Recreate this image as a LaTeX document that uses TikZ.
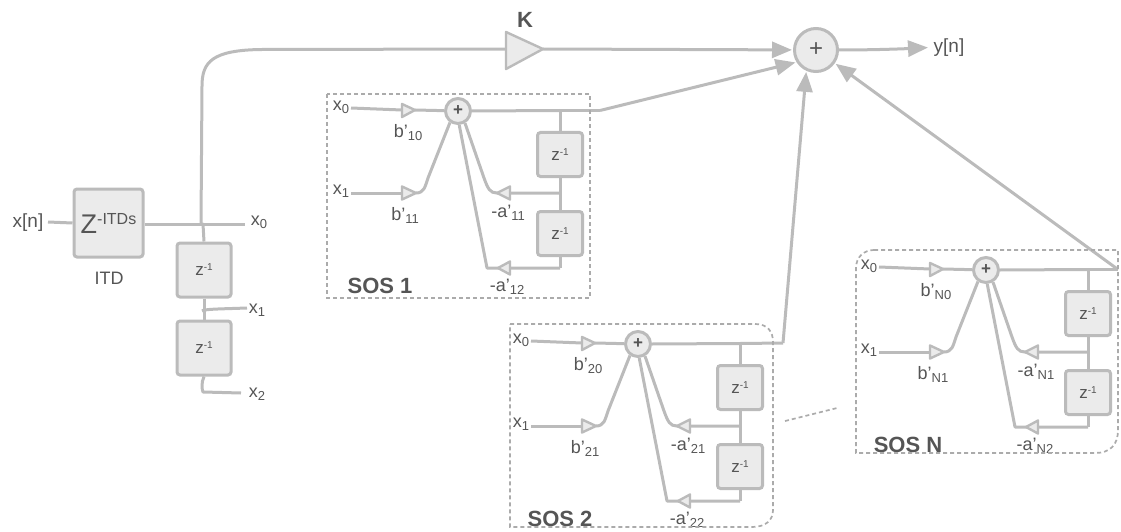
\documentclass[tikz,border=0pt]{standalone}
\usepackage{fontspec}
\setmainfont{Liberation Sans}
\usetikzlibrary{arrows.meta,calc}
\definecolor{ln}{HTML}{BBBBBB}
\definecolor{fl}{HTML}{EBEBEB}
\definecolor{tx}{HTML}{555555}
\definecolor{ds}{HTML}{ABABAB}
\newcommand{\fs}[1]{\fontsize{#1}{#1}\selectfont}
\newcommand{\subb}[2]{\fs{18}#1\raisebox{-3pt}{\fs{13}#2}}
\newcommand{\zinv}{\fs{17}z\raisebox{5pt}{\fs{10}-1}}
\tikzset{
 x=1pt,y=-1pt,
 lne/.style={draw=ln,line width=3pt,line join=round},
 arr/.style={lne,-{Triangle[length=20pt,width=16pt,fill=ln]},shorten >=1pt},
 zbox/.style={draw=ln,fill=fl,line width=3pt,rounded corners=3pt,inner sep=0pt,text=tx,minimum width=45pt,minimum height=44pt},
 sumn/.style={circle,draw=ln,fill=fl,line width=3pt,inner sep=0pt,text=tx,minimum size=25pt},
 gain/.style={draw=ln,fill=fl,line width=2.4pt,line join=round},
 lbl/.style={text=tx,inner sep=0pt},
 dbox/.style={draw=ds,line width=1.7pt,dash pattern=on 4pt off 3pt},
}
% #1 prefix, #2 dx, #3 dy, #4 b0 #5 b1 #6 a1 #7 a2 #8 title
\newcommand{\sosblock}[8]{%
\begin{scope}[shift={(#2,#3)}]
 \node[lbl] (#1x0) at (341,107.5) {\subb{x}{0}};
 \node[lbl] (#1x1) at (341,191.5) {\subb{x}{1}};
 \node[sumn] (#1sum) at (458,111) {\fs{17}\textbf{+}};
 \node[zbox] (#1za) at (560,154.5) {\zinv};
 \node[zbox] (#1zb) at (560,233.5) {\zinv};
 \coordinate (#1in0) at (351,108);
 \coordinate (#1in1) at (351,193);
 \coordinate (#1g0l) at (402,110);
 \coordinate (#1g0t) at (415,110);
 \coordinate (#1g1l) at (402,193);
 \coordinate (#1g1t) at (416,193);
 \coordinate (#1top) at (560,110.5);
 \coordinate (#1mid) at (560,193);
 \coordinate (#1bot) at (560,268);
 \coordinate (#1a1t) at (497,193);
 \coordinate (#1a2t) at (498,268);
 \coordinate (#1a2c) at (487,268);
 \draw[lne] (#1in0) -- (#1g0l);
 \draw[lne] (#1g0t) -- (#1sum);
 \draw[lne] (#1in1) -- (#1g1l);
 \draw[lne] (#1g1t) .. controls (424,193) and (425,187) .. (428,178) -- (#1sum.-125);
 \draw[lne] (#1sum.east) -- (#1top);
 \draw[lne] (#1top) -- (#1za.north);
 \draw[lne] (#1za.south) -- (#1zb.north);
 \draw[lne] (#1zb.south) -- (#1bot);
 \draw[lne] (#1mid) -- (#1a1t) .. controls (490,193) and (488,189) .. (484,178) -- (#1sum.-60);
 \draw[lne] (#1bot) -- (#1a2c) -- (#1sum.-85);
 \draw[gain] (#1g0l) ++(0,-6) -- (#1g0t) -- ++(-13,7) -- cycle;
 \draw[gain] (#1g1l) ++(0,-6.5) -- (#1g1t) -- ++(-14,6.5) -- cycle;
 \draw[gain] (#1a1t) -- ++(13,-6.5) -- ++(0,13) -- cycle;
 \draw[gain] (#1a2t) -- ++(12,-6.5) -- ++(0,13) -- cycle;
 \node[lbl] (#1lb0) at (408,133) {\subb{b'}{#4}};
 \node[lbl] (#1lb1) at (405,215) {\subb{b'}{#5}};
 \node[lbl] (#1la1) at (508,213) {\subb{-a'}{#6}};
 \node[lbl] (#1la2) at (507,287) {\subb{-a'}{#7}};
 \node[lbl] (#1title) at (380,286) {\fs{22}\textbf{#8}};
\end{scope}}
\begin{document}
\begin{tikzpicture}
\useasboundingbox (0,0) rectangle (1121,532);
% delay line
\node[lbl] (xn) at (28,223) {\fs{19}x[n]};
\node[zbox,minimum width=69pt,minimum height=68pt] (itd) at (108.5,223) {\fs{27}Z\raisebox{9pt}{\fs{16}-ITDs}};
\node[lbl] (itdl) at (109,278) {\fs{18}ITD};
\node[zbox,minimum width=54pt,minimum height=54pt] (d1) at (204,270) {\zinv};
\node[zbox,minimum width=54pt,minimum height=54pt] (d2) at (204,348) {\zinv};
\node[lbl] (x0) at (259,222) {\subb{x}{0}};
\node[lbl] (x1) at (257,310) {\subb{x}{1}};
\node[lbl] (x2) at (257,394) {\subb{x}{2}};
\coordinate (xe) at (48,222);
\coordinate (tap) at (201,224);
\coordinate (x0e) at (245,224);
\coordinate (t1) at (202,311);
\coordinate (x1e) at (247,308);
\coordinate (t2) at (203,392);
\coordinate (x2e) at (241,393);
\draw[lne] (xe) -- (itd.west);
\draw[lne] (itd.east |- tap) -- (x0e);
\draw[lne] (tap) -- ++(2,0) -- (d1.north);
\draw[lne] (d1.south) -- (d2.north);
\draw[lne] (t1) .. controls (204,309) and (220,309) .. (x1e);
\draw[lne] (d2.south) .. controls (201,383) and (202,390) .. (t2) -- (x2e);
% main sum, gain
\node[sumn,minimum size=43pt] (msum) at (816,50) {\fs{24}+};
\node[lbl] (k) at (525,20) {\fs{22}\textbf{K}};
\node[lbl] (yn) at (949,48) {\fs{19}y[n]};
\coordinate (kl) at (506,49);
\coordinate (kt) at (543,49);
\draw[lne] (tap) -- (202,86) .. controls (202,62) and (212,50) .. (262,49.5) -- (kl);
\draw[gain] (506,32) -- (kt) -- (506,69) -- cycle;
\draw[arr] (kt) -- (msum);
\draw[arr] (msum.east) .. controls (870,50) and (900,49) .. (929,47.5);
% SOS blocks
\sosblock{a}{0}{0}{10}{11}{11}{12}{SOS 1}
\sosblock{b}{180}{233}{20}{21}{21}{22}{SOS 2}
\sosblock{n}{528}{159}{N0}{N1}{N1}{N2}{SOS N}
% outputs
\coordinate (ao) at (600,110.5);
\coordinate (bo) at (783,343);
\coordinate (no) at (1118,269.5);
\draw[lne] (atop) -- (ao);
\draw[lne] (btop) -- (bo);
\draw[lne] (ntop) -- (no);
\draw[arr] (ao) -- (msum.-148);
\draw[arr] (bo) -- (msum.-115);
\draw[arr] (no) -- (msum.-35);
% dashed frames
\draw[dbox] (327,94) rectangle (590,298);
\draw[dbox] (510,324) -- (755,324) .. controls (768,324) and (773,332) .. (773,342) -- (773,510) .. controls (773,520) and (766,527) .. (752,527) -- (510,527) -- cycle;
\draw[dbox] (874,250) -- (1118,250) -- (1118,430) .. controls (1118,445) and (1110,453) .. (1095,453) -- (856,453) -- (856,268) .. controls (856,257) and (864,250) .. (874,250);
\coordinate (da) at (785,421);
\coordinate (db) at (837,408);
\draw[dbox] (da) -- (db);
\end{tikzpicture}
\end{document}
